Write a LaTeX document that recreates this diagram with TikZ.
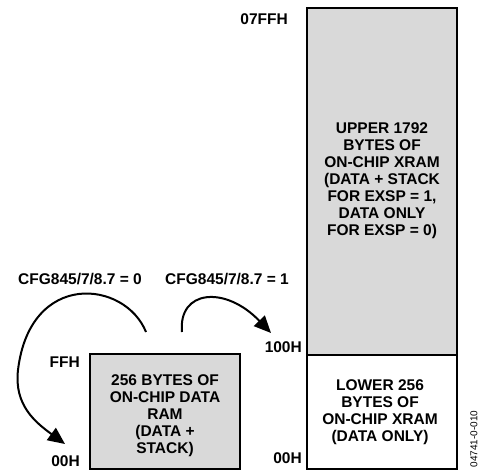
\documentclass[tikz,border=0pt]{standalone}
\usepackage{fontspec}
\setmainfont{Liberation Sans}
\usetikzlibrary{arrows.meta}
\begin{document}
\begin{tikzpicture}[x=1pt,y=-1pt,
  lbl/.style={font=\bfseries\fontsize{15.5}{17}\selectfont, inner sep=0pt},
  boxtxt/.style={font=\bfseries\fontsize{15.5}{17}\selectfont, align=center, inner sep=0pt},
  membox/.style={draw=black, line width=2pt, fill=#1},
  conn/.style={line width=2pt, -{Triangle[length=17pt,width=15pt]}}
]
\useasboundingbox (0,0) rectangle (481,470);
% boxes
\draw[membox={gray!30}] (90,469) |- (240,354) |- (90,469) -- cycle;
\draw[membox={gray!30}] (307,8) rectangle (457,355);
\draw[membox=white] (307,355) rectangle (457,469);
% box texts
\node[boxtxt] (smalltxt) at (165,416) {256 BYTES OF\\ON-CHIP DATA\\RAM\\(DATA +\\STACK)};
\node[boxtxt] (uppertxt) at (382,181) {UPPER 1792\\BYTES OF\\ON-CHIP XRAM\\(DATA + STACK\\FOR EXSP = 1,\\DATA ONLY\\FOR EXSP = 0)};
\node[boxtxt] (lowertxt) at (380,412) {LOWER 256\\BYTES OF\\ON-CHIP XRAM\\(DATA ONLY)};
% address labels
\node[lbl, anchor=east] (a07ff) at (288,19) {07FFH};
\node[lbl, anchor=east] (a100) at (302,347) {100H};
\node[lbl, anchor=east] (a00r) at (302,458) {00H};
\node[lbl, anchor=east] (aff) at (80,362) {FFH};
\node[lbl, anchor=east] (a00l) at (80,461.5) {00H};
% config labels
\node[lbl] (cfg0) at (80,279) {CFG845/7/8.7 = 0};
\node[lbl] (cfg1) at (227,279) {CFG845/7/8.7 = 1};
% arrows
\coordinate (s0) at (146,332);
\coordinate (m0) at (18,370);
\coordinate (e0) at (65,444);
\coordinate (s1) at (182,332);
\coordinate (e1) at (271,333);
\draw[conn] (s0) .. controls (125,280) and (30,270) .. (m0) .. controls (14,405) and (35,422) .. (e0);
\draw[conn] (s1) .. controls (178,290) and (225,285) .. (e1);
% figure id
\node[rotate=90, font=\fontsize{10}{12}\selectfont, inner sep=0pt] (fid) at (474,439) {04741-0-010};
\end{tikzpicture}
\end{document}
